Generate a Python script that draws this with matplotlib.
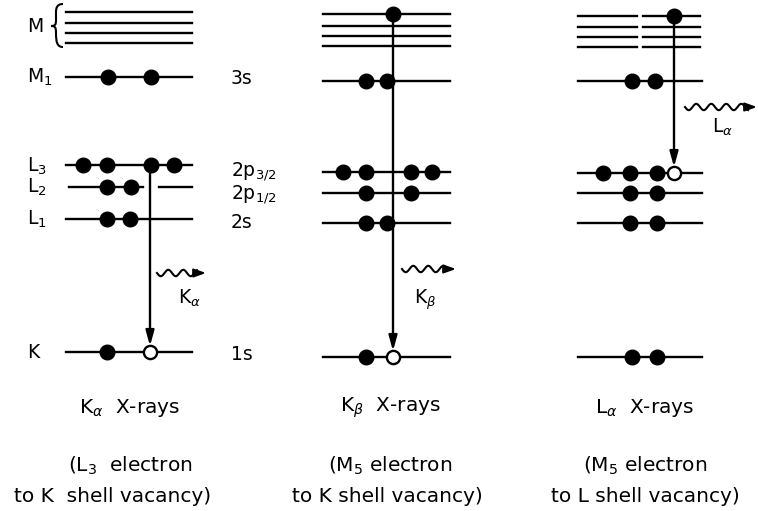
import numpy as np
import matplotlib
matplotlib.use("Agg")
import matplotlib.pyplot as plt
from matplotlib.path import Path
from matplotlib.patches import PathPatch

# energy level diagram for K-alpha, K-beta and L-alpha x-ray emission
# coordinates are in picture pixels (y grows downward)

shell_labels = ["M", "M$_1$", "L$_3$", "L$_2$", "L$_1$", "K"]
shell_label_y = [27, 77, 166, 187, 219, 353]
orbital_labels = ["3s", "2p$_{3/2}$", "2p$_{1/2}$", "2s", "1s"]
orbital_label_y = [78, 172, 195, 222, 354]

panel_titles = [r"K$_\alpha$  X-rays", r"K$_\beta$  X-rays", r"L$_\alpha$  X-rays"]
panel_line1 = [r"(L$_3$  electron", r"(M$_5$ electron", r"(M$_5$ electron"]
panel_line2 = ["to K  shell vacancy)", "to K shell vacancy)", "to L shell vacancy)"]
photon_labels = [r"K$_\alpha$", r"K$_\beta$", r"L$_\alpha$"]

# level heights per panel: four M sublevels, then M1/3s, L3, L2, L1, K
m_levels = [[12, 23, 33, 43], [14, 26, 36, 46], [16, 27, 37, 47]]
lower_levels = [[77, 165, 187, 219, 352],
                [81, 172, 193, 223, 357],
                [81, 173, 193, 223, 357]]

# filled electrons (x positions) for each level, per panel
filled = [
    {77: [108, 151], 165: [83, 107, 151, 174], 187: [107, 131], 219: [107, 130], 352: [107]},
    {14: [393], 81: [366, 387], 172: [343, 366, 411, 432], 193: [366, 411], 223: [366, 387], 357: [366]},
    {16: [674], 81: [632, 655], 173: [603, 630, 657], 193: [630, 657], 223: [630, 657], 357: [632, 657]},
]
# vacancies (open circles)
holes = [(150, 352), (393, 357), (674, 173)]
# electron transition: start height
transition_start = [165, 14, 16]

fig = plt.figure(figsize=(7.58, 5.11), dpi=100)
ax = fig.add_axes([0, 0, 1, 1])
ax.set_xlim(0, 758)
ax.set_ylim(511, 0)
ax.axis("off")

fs = 13.5
lw = 1.7
spans = [(66, 192), (323, 450), (578, 702)]

# level lines
for p in range(3):
    x0, x1 = spans[p]
    for y in m_levels[p]:
        if p == 2:
            ax.plot([x0, 637], [y, y], color="k", lw=lw)
            ax.plot([643, x1 - 2], [y, y], color="k", lw=lw)
        else:
            ax.plot([x0, x1], [y, y], color="k", lw=lw)
    for i, y in enumerate(lower_levels[p]):
        if p == 0 and i == 2:
            # L2 line broken where the transition passes
            ax.plot([69, 143], [y, y], color="k", lw=lw)
            ax.plot([159, x1], [y, y], color="k", lw=lw)
        else:
            ax.plot([x0, x1], [y, y], color="k", lw=lw)

# transitions
for p in range(3):
    xh, yh = holes[p]
    ax.annotate("", xy=(xh, yh - 6), xytext=(xh, transition_start[p]),
                arrowprops=dict(arrowstyle="-|>,head_length=0.9,head_width=0.25",
                                color="k", lw=1.7, shrinkA=0, shrinkB=0), zorder=2)

# electrons
for p in range(3):
    for y, xs in filled[p].items():
        ax.plot(xs, [y] * len(xs), "o", color="k", ms=10.5, zorder=4)
    ax.plot(holes[p][0], holes[p][1], "o", mfc="white", mec="k", mew=1.7, ms=9.5, zorder=4)

# photons
photons = [(157, 206, 273), (402, 456, 269), (685, 757, 107)]
label_pos = [(178, 298), (414, 300), (712, 127)]
for (x0, x1, y), lab, (lx, ly) in zip(photons, photon_labels, label_pos):
    xx = np.linspace(x0, x1 - 9, 150)
    yy = y + 3.2 * np.sin(2 * np.pi * (xx - x0) / 15.0)
    ax.plot(xx, yy, color="k", lw=1.5)
    ax.annotate("", xy=(x1, y), xytext=(x1 - 10, y),
                arrowprops=dict(arrowstyle="-|>,head_length=0.7,head_width=0.25",
                                color="k", lw=1.5, shrinkA=0, shrinkB=0))
    ax.text(lx, ly, lab, fontsize=fs, ha="left", va="center")

# brace for M shell
brace = Path([(63, 4), (57, 4), (56, 8), (56, 12),
              (56, 20), (56, 25), (55, 26), (51, 26),
              (55, 26), (56, 27), (56, 33),
              (56, 42), (57, 47), (63, 47)],
             [Path.MOVETO, Path.CURVE4, Path.CURVE4, Path.CURVE4,
              Path.LINETO, Path.CURVE4, Path.CURVE4, Path.CURVE4,
              Path.CURVE4, Path.CURVE4, Path.CURVE4,
              Path.CURVE4, Path.CURVE4, Path.CURVE4])
ax.add_patch(PathPatch(brace, fill=False, lw=1.5, color="k"))

# shell and orbital labels
for lab, y in zip(shell_labels, shell_label_y):
    ax.text(27, y, lab, fontsize=fs, ha="left", va="center")
for lab, y in zip(orbital_labels, orbital_label_y):
    ax.text(231, y, lab, fontsize=fs, ha="left", va="center")

# captions
cfs = 14.5
centers = [130, 390, 645]
for c, t, l1 in zip(centers, panel_titles, panel_line1):
    ax.text(c, 408, t, fontsize=cfs, ha="center", va="center")
    ax.text(c, 466, l1, fontsize=cfs, ha="center", va="center")
for c, l2 in zip([113, 387, 645], panel_line2):
    ax.text(c, 497, l2, fontsize=cfs, ha="center", va="center")

fig.savefig("out.png", dpi=100)
